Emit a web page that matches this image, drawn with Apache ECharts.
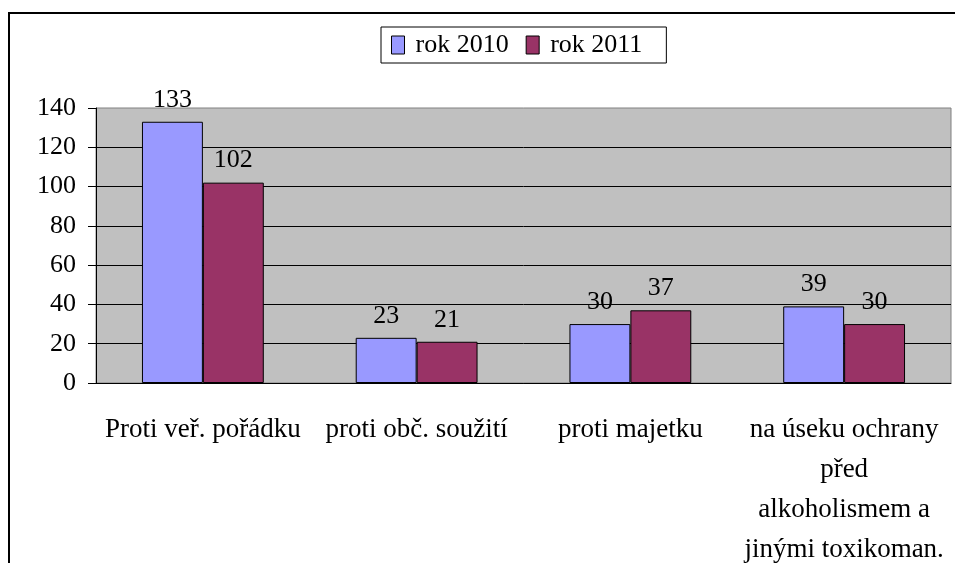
<!DOCTYPE html>
<html>
<head>
<meta charset="utf-8">
<script src="https://cdn.jsdelivr.net/npm/echarts@6/dist/echarts.min.js"></script>
<style>
html,body{margin:0;padding:0;background:#fff;}
#main{width:955px;height:563px;}
</style>
</head>
<body>
<div id="main"></div>
<script>
// kategorie a hodnoty
var categories = ['Proti veř. pořádku', 'proti obč. soužití', 'proti majetku', 'na úseku ochrany\npřed\nalkoholismem a\njinými toxikoman.'];
var rok2010 = [133, 23, 30, 39];
var rok2011 = [102, 21, 37, 30];
var yTicks = [0, 20, 40, 60, 80, 100, 120, 140];

var font = 'Liberation Serif';
var chart = echarts.init(document.getElementById('main'));

var option = {
	backgroundColor: '#fff',
	animation: false,
	graphic: [{
		type: 'rect',
		shape: {x: 9, y: 13, width: 960, height: 570},
		style: {fill: 'none', stroke: '#000', lineWidth: 2},
		silent: true
	}],
	legend: {
		top: 27,
		left: 381,
		data: ['rok 2010', 'rok 2011'],
		icon: 'rect',
		itemWidth: 13,
		itemHeight: 18,
		itemGap: 17,
		padding: [5, 24, 5, 10],
		borderColor: '#000',
		borderWidth: 1,
		itemStyle: {borderColor: '#000', borderWidth: 1},
		textStyle: {fontFamily: font, fontSize: 26, color: '#000', padding: [0, 0, 0, 6]}
	},
	grid: {
		left: 96,
		right: 4,
		top: 108,
		bottom: 180,
		outerBoundsMode: 'none',
		show: true,
		backgroundColor: '#C0C0C0',
		borderColor: '#808080',
		borderWidth: 1
	},
	xAxis: {
		type: 'category',
		data: categories,
		axisLine: {lineStyle: {color: '#000', width: 1}},
		axisTick: {length: 7, lineStyle: {color: '#000'}},
		axisLabel: {
			fontFamily: font, fontSize: 27, color: '#000',
			margin: 27, lineHeight: 40, interval: 0
		}
	},
	yAxis: {
		type: 'value',
		min: 0,
		max: yTicks[yTicks.length - 1],
		interval: 20,
		axisLine: {show: true, lineStyle: {color: '#000', width: 1}},
		axisTick: {show: true, length: 8, lineStyle: {color: '#000'}},
		axisLabel: {fontFamily: font, fontSize: 26, color: '#000', margin: 20, padding: [10, 0, 0, 0]},
		splitLine: {showMaxLine: false, lineStyle: {color: '#000', width: 1}}
	},
	series: [{
		name: 'rok 2010',
		type: 'bar',
		data: rok2010,
		barGap: '0%',
		barCategoryGap: '43%',
		itemStyle: {color: '#9999FF', borderColor: '#000', borderWidth: 1},
		label: {show: true, position: 'top', distance: 9, fontFamily: font, fontSize: 26, color: '#000'}
	}, {
		name: 'rok 2011',
		type: 'bar',
		data: rok2011,
		barGap: '0%',
		barCategoryGap: '43%',
		itemStyle: {color: '#993366', borderColor: '#000', borderWidth: 1},
		label: {show: true, position: 'top', distance: 9, fontFamily: font, fontSize: 26, color: '#000'}
	}]
};

chart.setOption(option);
</script>
</body>
</html>
